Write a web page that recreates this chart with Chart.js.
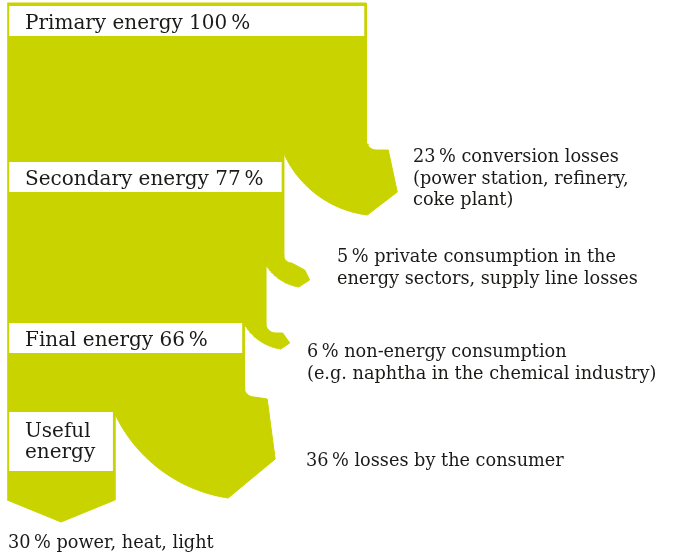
<!DOCTYPE html>
<html lang="en">
<head>
<meta charset="utf-8">
<title>Energy flow</title>
<script src="https://cdn.jsdelivr.net/npm/chart.js@4.4.1/dist/chart.umd.min.js"></script>
<style>
  html, body { margin: 0; padding: 0; background: #fff; }
  #wrap { position: relative; width: 674px; height: 556px; }
</style>
</head>
<body>
<div id="wrap"><canvas id="flowChart"></canvas></div>
<script>
// --- DATA ---
const stageNames = ['Primary energy', 'Secondary energy', 'Final energy', 'Useful energy'];
const stageShares = [100, 77, 66, 30];
const lossShares = [23, 5, 6, 36];
const lossTexts = [
    ['conversion losses', '(power station, refinery,', 'coke plant)'],
    ['private consumption in the', 'energy sectors, supply line losses'],
    ['non-energy consumption', '(e.g. naphtha in the chemical industry)'],
    ['losses by the consumer']
];
const usefulText = 'power, heat, light';

// --- LAYOUT (canvas pixels) ---
const W = 674, H = 556;
const X_MIN = -2, X_MAX = 185.7;
const PX = W / (X_MAX - X_MIN);          // pixels per percent point
const GREEN = '#c9d300';
const INK = '#1a1a18';
const FONT = '"DejaVu Serif", serif';
const THIN = '\u2009';

const barTop = 3;
const splitY = [140, 255, 323, 387];     // row where each loss leaves the trunk
const boxY = [[6, 36], [162, 192], [323, 353], [412, 471]];
const trunkEnd = 500, trunkTip = 522;
// arrow heads: offsets in px from (outer edge, split row)
const heads = [
    { notch: 10, ledge: [22, 10], tip: [31, 52], bottom: [1, 75], center: [14, -30] },
    { notch: 8, ledge: [21, 15], tip: [26, 25], bottom: [15, 32], center: [23, -15] },
    { notch: 10, ledge: [17, 10], tip: [24, 20], bottom: [15, 26], center: [22, -23] },
    { notch: 10, ledge: [23, 12], tip: [31, 72], bottom: [-16, 111], center: [6, -37] }
];
const textPos = [[413, 162], [337, 262], [307, 357], [306, 466]];
const LINE_H = 21.5;

const toPx = v => (v - X_MIN) * PX;
const toVal = px => px / PX + X_MIN;

// --- SHAPES ---
function trunkShape() {
    const pts = [{ x: 0, y: barTop }, { x: stageShares[0], y: barTop }];
    let level = stageShares[0];
    lossShares.forEach((loss, i) => {
        pts.push({ x: level, y: splitY[i] });
        level -= loss;
        pts.push({ x: level, y: splitY[i] });
    });
    pts.push({ x: level, y: trunkEnd }, { x: level / 2, y: trunkTip }, { x: 0, y: trunkEnd });
    return pts;
}

function branchShape(outer, inner, y0, h) {
    const ox = toPx(outer), ix = toPx(inner);
    const pts = [];
    const add = (px, py) => pts.push({ x: toVal(px), y: py });

    add(ix, y0 - 1);
    // rounded notch where the branch leaves the trunk
    for (let k = 0; k <= 8; k++) {
        const a = Math.PI - (k / 8) * Math.PI / 2;
        add(ox + h.notch + h.notch * Math.cos(a), y0 + h.notch * Math.sin(a));
    }
    add(ox + h.ledge[0], y0 + h.ledge[1]);
    add(ox + h.tip[0], y0 + h.tip[1]);

    // inner bend back to the trunk
    const cx = ox + h.center[0], cy = y0 + h.center[1];
    const bx = ox + h.bottom[0], by = y0 + h.bottom[1];
    const r = Math.hypot(bx - cx, by - cy);
    const a0 = Math.atan2(by - cy, bx - cx);
    const a1 = Math.acos(Math.max(-1, Math.min(1, (ix - cx) / r)));
    for (let k = 0; k <= 40; k++) {
        const a = a0 + (a1 - a0) * k / 40;
        add(cx + r * Math.cos(a), cy + r * Math.sin(a));
    }
    return pts;
}

function shapeDataset(data) {
    return {
        data, fill: 'shape', backgroundColor: GREEN, borderColor: GREEN,
        borderWidth: 1, pointRadius: 0, pointHoverRadius: 0, tension: 0
    };
}

const datasets = [shapeDataset(trunkShape())];
let level = stageShares[0];
lossShares.forEach((loss, i) => {
    datasets.push(shapeDataset(branchShape(level, level - loss, splitY[i], heads[i])));
    level -= loss;
});

// --- LABELS ---
const labelPlugin = {
    id: 'flowLabels',
    afterDatasetsDraw(chart) {
        const { ctx, scales: { x } } = chart;
        ctx.save();

        // white name boxes sitting on the trunk
        stageShares.forEach((share, i) => {
            const left = x.getPixelForValue(0) + 2;
            const right = x.getPixelForValue(share) - 2;
            ctx.fillStyle = '#fff';
            ctx.fillRect(left, boxY[i][0], right - left, boxY[i][1] - boxY[i][0]);
        });

        ctx.fillStyle = INK;
        ctx.textBaseline = 'alphabetic';
        ctx.textAlign = 'left';

        ctx.font = '20px ' + FONT;
        for (let i = 0; i < 3; i++) {
            ctx.fillText(`${stageNames[i]} ${stageShares[i]}${THIN}%`, 25, boxY[i][0] + 23);
        }
        stageNames[3].split(' ').forEach((word, k) => {
            ctx.fillText(word, 25, boxY[3][0] + 25 + k * 21);
        });

        ctx.font = '17.7px ' + FONT;
        lossTexts.forEach((lines, i) => {
            lines.forEach((line, k) => {
                const txt = k === 0 ? `${lossShares[i]}${THIN}% ${line}` : line;
                ctx.fillText(txt, textPos[i][0], textPos[i][1] + k * LINE_H);
            });
        });
        ctx.fillText(`${stageShares[3]}${THIN}% ${usefulText}`, 8, 548);

        ctx.restore();
    }
};

new Chart(document.getElementById('flowChart'), {
    type: 'line',
    data: { datasets },
    options: {
        responsive: true, maintainAspectRatio: false, animation: false,
        layout: { padding: 0 },
        plugins: { legend: { display: false }, tooltip: { enabled: false } },
        scales: {
            x: { type: 'linear', min: X_MIN, max: X_MAX, display: false },
            y: { type: 'linear', min: 0, max: H, reverse: true, display: false }
        }
    },
    plugins: [labelPlugin]
});
</script>
</body>
</html>
